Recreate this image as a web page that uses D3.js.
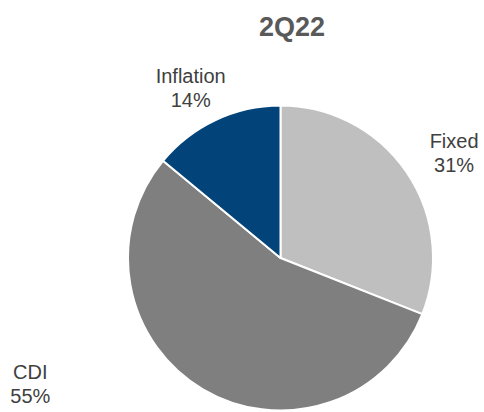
<!DOCTYPE html>
<html>
<head>
<meta charset="utf-8">
<script src="https://cdn.jsdelivr.net/npm/d3@7"></script>
<style>
  html, body { margin: 0; padding: 0; background: #fff; }
  svg { display: block; font-family: "Liberation Sans", Arial, Helvetica, sans-serif; }
</style>
</head>
<body>
<svg id="chart" width="484" height="412"></svg>
<script>
// Portfolio mix by index type
const title = "2Q22";
const categories = ["Fixed", "CDI", "Inflation"];
const shares = [31, 55, 14];
const colors = ["#BFBFBF", "#7F7F7F", "#024479"];

const W = 484, H = 412;
const cx = 280.5, cy = 258, R = 152.5;

const svg = d3.select("#chart");

svg.append("text")
  .attr("x", 292).attr("y", 36)
  .attr("text-anchor", "middle")
  .attr("font-size", 27).attr("font-weight", "bold")
  .attr("fill", "#595959")
  .text(title);

const pie = d3.pie().sort(null).value(d => d.v);
const data = categories.map((c, i) => ({ name: c, v: shares[i], color: colors[i] }));
const arcs = pie(data);

const arc = d3.arc().innerRadius(0).outerRadius(R);
const g = svg.append("g").attr("transform", `translate(${cx},${cy})`);

g.selectAll("path").data(arcs).join("path")
  .attr("d", arc)
  .attr("fill", d => d.data.color)
  .attr("stroke", "#fff")
  .attr("stroke-width", 2)
  .attr("stroke-linejoin", "round");

// Labels sit outside the pie, along each slice's mid angle, nudged clear of the rim
const labelRadius = [203, 280, 192];
const labelAngleShift = [0.052, 0.571, -0.047];
const labels = g.selectAll("g.lbl").data(arcs).join("g").attr("class", "lbl")
  .attr("transform", (d, i) => {
    const a = (d.startAngle + d.endAngle) / 2 + labelAngleShift[i];
    const r = labelRadius[i];
    return `translate(${Math.sin(a) * r},${-Math.cos(a) * r})`;
  });

labels.append("text")
  .attr("text-anchor", "middle")
  .attr("font-size", 20).attr("fill", "#404040")
  .attr("y", -5)
  .text(d => d.data.name);
labels.append("text")
  .attr("text-anchor", "middle")
  .attr("font-size", 20).attr("fill", "#404040")
  .attr("y", 19)
  .text(d => d.data.v + "%");
</script>
</body>
</html>
